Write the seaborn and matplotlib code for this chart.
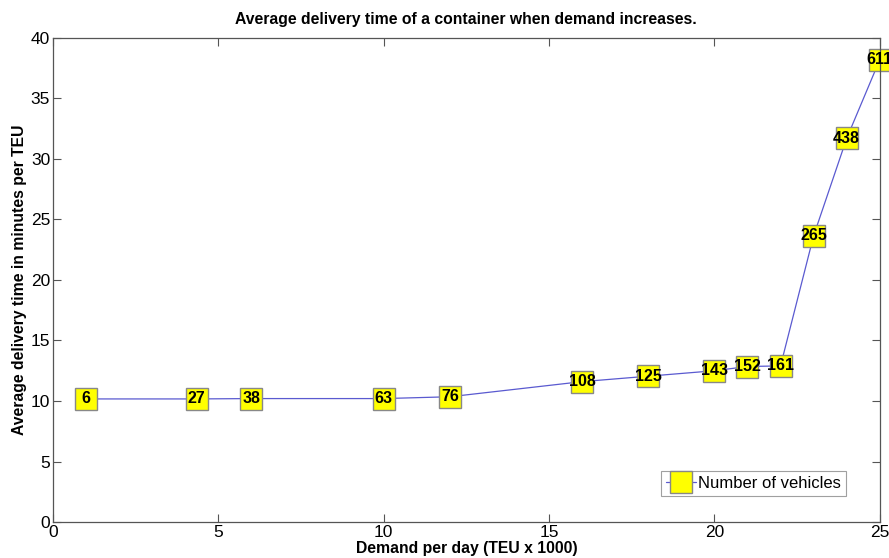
import matplotlib
matplotlib.use("Agg")
import matplotlib.pyplot as plt
import seaborn as sns
import pandas as pd

# Demand per day (TEU x 1000) and resulting average delivery time (min / TEU)
demand = [1, 4.35, 6, 10, 12, 16, 18, 20, 21, 22, 23, 24, 25]
delivery_time = [10.17, 10.17, 10.2, 10.2, 10.35, 11.6, 12.05, 12.5, 12.85, 12.9, 23.65, 31.7, 38.2]
vehicles = [6, 27, 38, 63, 76, 108, 125, 143, 152, 161, 265, 438, 611]

df = pd.DataFrame({"demand": demand, "time": delivery_time, "vehicles": vehicles})

sns.set_style("white")
plt.rcParams["font.family"] = ["Liberation Sans", "DejaVu Sans"]
plt.rcParams["text.color"] = "black"
plt.rcParams["axes.labelcolor"] = "black"

fig = plt.figure(figsize=(8.89, 5.58), dpi=100)
ax = fig.add_axes([0.0596, 0.0645, 0.930, 0.8675])

sns.lineplot(data=df, x="demand", y="time", ax=ax, color="#5a5ad0", linewidth=0.9,
             marker="s", markersize=16.5, markerfacecolor="#ffff00",
             markeredgecolor="#888888", markeredgewidth=1.0,
             label="Number of vehicles", clip_on=False)

for xv, yv, n in zip(demand, delivery_time, vehicles):
    ax.text(xv, yv, str(n), ha="center", va="center", fontsize=11.5,
            fontweight="bold", color="black", clip_on=False, zorder=5)

ax.set_xlim(0, 25)
ax.set_ylim(0, 40)
ax.set_xticks(range(0, 26, 5))
ax.set_yticks(range(0, 41, 5))
ax.tick_params(direction="in", length=6, width=0.8, color="#555555",
               labelsize=12.5, labelcolor="black", top=True, right=True,
               bottom=True, left=True, pad=2)
for s in ax.spines.values():
    s.set_color("#555555")
    s.set_linewidth(0.9)

ax.set_title("Average delivery time of a container when demand increases.",
             fontsize=11.3, fontweight="bold", pad=10)
ax.set_xlabel("Demand per day (TEU x 1000)", fontsize=11.3, fontweight="bold", labelpad=1)
ax.set_ylabel("Average delivery time in minutes per TEU", fontsize=11.3,
              fontweight="bold", labelpad=3)

leg = ax.legend(loc="lower right", bbox_to_anchor=(0.959, 0.054), borderaxespad=0,
                fontsize=12, frameon=True, fancybox=False, borderpad=0.3,
                handlelength=1.8, handletextpad=0.1)
leg.get_frame().set_edgecolor("#888888")
leg.get_frame().set_linewidth(0.8)
for h in leg.legend_handles:
    h.set_markersize(16)

fig.savefig("out.png", dpi=100)
